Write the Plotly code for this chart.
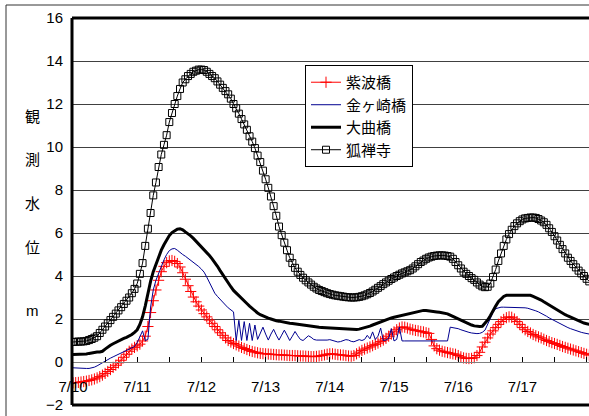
import plotly.graph_objects as go

# hourly observations starting 7/10 00:00
shiwa = [
    -0.97, -0.96, -0.95, -0.93, -0.91, -0.89, -0.86, -0.83, -0.79, -0.74, -0.68, -0.61,
    -0.53, -0.44, -0.35, -0.25, -0.15, -0.04, 0.08, 0.22, 0.36, 0.5, 0.6, 0.68,
    0.75, 0.83, 0.98, 1.2, 1.65, 2.3, 2.85, 3.35, 3.8, 4.2, 4.45, 4.62,
    4.7, 4.72, 4.68, 4.58, 4.42, 4.15, 3.85, 3.55, 3.28, 3.02, 2.8, 2.6,
    2.42, 2.25, 2.1, 1.95, 1.8, 1.65, 1.5, 1.36, 1.24, 1.12, 1.0, 0.93,
    0.86, 0.8, 0.74, 0.68, 0.63, 0.58, 0.53, 0.49, 0.46, 0.43, 0.4, 0.39,
    0.38, 0.37, 0.36, 0.35, 0.34, 0.33, 0.33, 0.32, 0.31, 0.3, 0.3, 0.3,
    0.29, 0.28, 0.28, 0.27, 0.26, 0.25, 0.25, 0.26, 0.28, 0.3, 0.33, 0.36,
    0.38, 0.38, 0.36, 0.34, 0.33, 0.32, 0.3, 0.28, 0.27, 0.3, 0.38, 0.46,
    0.54, 0.6, 0.65, 0.7, 0.76, 0.82, 0.88, 0.95, 1.02, 1.1, 1.2, 1.3,
    1.4, 1.5, 1.58, 1.63, 1.62, 1.58, 1.53, 1.5, 1.47, 1.45, 1.42, 1.4,
    1.36, 1.33, 1.05, 0.75, 0.62, 0.55, 0.5, 0.47, 0.44, 0.41, 0.38, 0.36,
    0.3, 0.24, 0.19, 0.17, 0.16, 0.17, 0.2, 0.3, 0.45, 0.7, 0.92, 1.12,
    1.3, 1.45, 1.6, 1.75, 1.88, 1.98, 2.06, 2.1, 2.08, 2.0, 1.88, 1.75,
    1.6, 1.5, 1.42, 1.35, 1.28, 1.22, 1.17, 1.12, 1.06, 1.0, 0.95, 0.9,
    0.86, 0.82, 0.77, 0.72, 0.68, 0.64, 0.6, 0.56, 0.52, 0.48, 0.44, 0.4,
    0.36, 0.32,
]

kanegasaki = [
    -0.27, -0.28, -0.3, -0.3, -0.3, -0.3, -0.3, -0.28, -0.24, -0.18, -0.1, -0.03,
    0.05, 0.12, 0.18, 0.24, 0.3, 0.36, 0.42, 0.48, 0.53, 0.58, 0.63, 0.72,
    0.9, 1.2, 1.45, 1.0, 1.05, 2.55, 3.35, 3.8, 4.15, 4.45, 4.75, 5.0,
    5.18, 5.26, 5.28, 5.2, 5.08, 5.0, 4.92, 4.83, 4.74, 4.64, 4.54, 4.44,
    4.32, 4.18, 3.95, 3.7, 3.42, 3.2, 3.05, 2.93, 2.8, 2.65, 2.52, 2.42,
    2.33, 1.0, 1.94, 1.0, 1.88, 1.0, 1.8, 1.0, 1.72, 1.05, 1.35, 1.62,
    1.3, 1.02, 1.3, 1.52, 1.25, 1.02, 1.25, 1.48, 1.25, 1.0, 1.2, 1.42,
    1.22, 1.05, 1.0, 1.12, 1.22, 1.15, 1.05, 1.02, 1.02, 1.0, 1.0, 1.02,
    1.04, 1.0, 0.95, 0.93, 0.95, 1.0, 1.04, 1.02, 0.96, 0.94, 1.0, 1.04,
    1.0, 1.05, 1.24, 1.08, 1.4, 1.05, 1.2, 1.58, 1.0, 1.02, 1.1, 1.55,
    0.98, 1.05, 1.63, 0.98, 0.98, 0.98, 0.98, 0.98, 0.98, 0.98, 0.98, 0.98,
    0.98, 0.98, 0.98, 0.98, 0.98, 0.98, 0.98, 0.98, 0.98, 1.62, 1.6, 1.57,
    1.55, 1.5, 1.45, 1.42, 1.38, 1.35, 1.33, 1.32, 1.33, 1.38, 1.48, 1.75,
    2.05, 2.3, 2.48, 2.53, 2.55, 2.55, 2.55, 2.55, 2.54, 2.54, 2.53, 2.53,
    2.53, 2.52, 2.5, 2.47, 2.43, 2.38, 2.33, 2.27, 2.2, 2.13, 2.05, 1.98,
    1.92, 1.86, 1.8, 1.73, 1.66, 1.6, 1.55, 1.5, 1.46, 1.42, 1.38, 1.35,
    1.32, 1.3,
]

omagari = [
    0.35, 0.35, 0.35, 0.36, 0.36, 0.37, 0.4, 0.43, 0.45, 0.46, 0.47, 0.5,
    0.6, 0.7, 0.78, 0.85, 0.92, 0.98, 1.04, 1.1, 1.15, 1.21, 1.28, 1.38,
    1.5, 1.75, 2.1, 2.6, 3.2, 3.75, 4.2, 4.55, 4.9, 5.2, 5.45, 5.7,
    5.88, 6.02, 6.12, 6.18, 6.2, 6.15, 6.05, 5.97, 5.87, 5.75, 5.62, 5.5,
    5.35, 5.2, 5.08, 4.95, 4.8, 4.65, 4.45, 4.25, 4.05, 3.85, 3.65, 3.5,
    3.33, 3.2, 3.07, 2.95, 2.83, 2.72, 2.6, 2.48, 2.37, 2.28, 2.2, 2.14,
    2.09, 2.04, 2.0, 1.95, 1.92, 1.9, 1.87, 1.84, 1.82, 1.8, 1.79, 1.77,
    1.75, 1.73, 1.72, 1.7, 1.68, 1.66, 1.64, 1.63, 1.62, 1.61, 1.6, 1.6,
    1.59, 1.58, 1.57, 1.56, 1.55, 1.53, 1.52, 1.51, 1.5, 1.5, 1.51, 1.53,
    1.56, 1.59, 1.63, 1.67, 1.72, 1.77, 1.83, 1.88, 1.93, 1.98, 2.02, 2.05,
    2.08, 2.11, 2.14, 2.17, 2.2, 2.23, 2.27, 2.3, 2.33, 2.36, 2.38, 2.4,
    2.4, 2.39, 2.37, 2.35, 2.33, 2.31, 2.29, 2.27, 2.24, 2.18, 2.12, 2.06,
    2.0, 1.95, 1.88, 1.83, 1.78, 1.72, 1.68, 1.66, 1.65, 1.66, 1.8, 1.95,
    2.15, 2.4, 2.6, 2.8, 2.95, 3.05, 3.1, 3.1, 3.1, 3.1, 3.1, 3.1,
    3.1, 3.1, 3.1, 3.1, 3.05, 3.0, 2.95, 2.88, 2.8, 2.72, 2.64, 2.56,
    2.48, 2.42, 2.35, 2.28, 2.2, 2.14, 2.08, 2.02, 1.96, 1.9, 1.85, 1.81,
    1.78, 1.75,
]

kozenji = [
    0.93, 0.94, 0.95, 0.95, 0.96, 0.98, 1.02, 1.07, 1.13, 1.2, 1.35, 1.5,
    1.65, 1.8, 1.95, 2.1, 2.25, 2.4, 2.55, 2.7, 2.85, 3.0, 3.2, 3.4,
    3.65, 4.1, 4.6, 5.4, 6.2, 6.93, 7.75, 8.35, 9.07, 9.65, 10.1, 10.55,
    11.16, 11.58, 12.0, 12.37, 12.7, 13.0, 13.15, 13.3, 13.4, 13.5, 13.55, 13.6,
    13.6, 13.58, 13.5, 13.4, 13.3, 13.2, 13.05, 12.9, 12.75, 12.6, 12.45, 12.25,
    12.0, 11.8, 11.55, 11.3, 11.05, 10.8, 10.5, 10.25, 9.95, 9.6, 9.3, 8.9,
    8.5, 8.1, 7.7, 7.25, 6.8, 6.3, 5.9, 5.55, 5.2, 4.85, 4.6, 4.38,
    4.2, 4.05, 3.92, 3.8, 3.7, 3.6, 3.5, 3.42, 3.35, 3.3, 3.25, 3.2,
    3.16, 3.13, 3.1, 3.08, 3.06, 3.04, 3.02, 3.01, 3.0, 3.0, 3.01, 3.03,
    3.06, 3.1, 3.15, 3.21, 3.28, 3.36, 3.45, 3.53, 3.62, 3.7, 3.78, 3.86,
    3.93, 4.0, 4.06, 4.12, 4.17, 4.22, 4.27, 4.35, 4.45, 4.55, 4.65, 4.72,
    4.8, 4.86, 4.9, 4.93, 4.95, 4.96, 4.96, 4.95, 4.93, 4.9, 4.8, 4.65,
    4.5, 4.35, 4.2, 4.1, 4.0, 3.9, 3.82, 3.7, 3.6, 3.52, 3.48, 3.5,
    3.65, 3.95, 4.3, 4.7, 5.05, 5.4, 5.7, 5.95, 6.15, 6.32, 6.45, 6.55,
    6.63, 6.68, 6.7, 6.72, 6.72, 6.7, 6.65, 6.58, 6.5, 6.38, 6.22, 6.05,
    5.85, 5.65, 5.45, 5.25, 5.05, 4.85, 4.7, 4.55, 4.4, 4.25, 4.12, 4.0,
    3.87, 3.75,
]

date_labels = ["7/10", "7/11", "7/12", "7/13", "7/14", "7/15", "7/16", "7/17"]
series_names = ["紫波橋", "金ヶ崎橋", "大曲橋", "狐禅寺"]
y_title_chars = ["観", "測", "水", "位", "m"]

hours_per_day = 24
t = [i / hours_per_day for i in range(len(kozenji))]

fig = go.Figure()
fig.add_trace(go.Scatter(
    x=t, y=shiwa, name=series_names[0], mode="lines+markers",
    line=dict(color="#ff0000", width=1),
    marker=dict(symbol="cross-thin-open", size=8, line=dict(color="#ff0000", width=1), color="#ff0000"),
))
fig.add_trace(go.Scatter(
    x=t, y=kanegasaki, name=series_names[1], mode="lines",
    line=dict(color="#000090", width=1),
))
fig.add_trace(go.Scatter(
    x=t, y=omagari, name=series_names[2], mode="lines",
    line=dict(color="#000000", width=3),
))
fig.add_trace(go.Scatter(
    x=t, y=kozenji, name=series_names[3], mode="lines+markers",
    line=dict(color="#000000", width=1),
    marker=dict(symbol="square-open", size=7, color="#000000", line=dict(color="#000000", width=1)),
))

tickvals = [i * 0.5 for i in range(2 * len(date_labels) + 1)]
ticktext = []
for i in range(len(tickvals)):
    ticktext.append(date_labels[i // 2] if i % 2 == 0 and i // 2 < len(date_labels) else "")

num_font = dict(family="Liberation Sans, Arial, sans-serif", size=15, color="black")
cjk = "Noto Sans CJK JP, sans-serif"

fig.update_layout(
    width=589, height=416,
    margin=dict(l=72, r=0, t=18, b=11),
    plot_bgcolor="white", paper_bgcolor="white",
    xaxis=dict(
        range=[-0.0156, 8.037], anchor="free", position=2 / 18,
        showline=True, linecolor="#808080", linewidth=1,
        ticks="inside", ticklen=5, tickcolor="#000000", tickwidth=1,
        tickmode="array", tickvals=tickvals, ticktext=ticktext,
        showgrid=False, zeroline=False, tickfont=num_font,
        ticklabelstandoff=11, automargin=False,
    ),
    yaxis=dict(
        range=[-2, 16], tick0=0, dtick=2,
        showgrid=True, gridcolor="#404040", gridwidth=1,
        zeroline=False, showline=False,
        ticks="", tickfont=num_font, ticklabelstandoff=8, automargin=False,
    ),
    legend=dict(
        x=0.4507, y=0.8786, xanchor="left", yanchor="top",
        bgcolor="white", bordercolor="#000000", borderwidth=1,
        font=dict(family=cjk, size=15, color="black"),
        itemwidth=30, tracegroupgap=0,
    ),
)

# plot-area borders (left/top/bottom), outer chart frame (left/top)
fig.add_shape(type="line", xref="paper", yref="paper", x0=0, x1=0, y0=0, y1=1,
              line=dict(color="black", width=3))
fig.add_shape(type="line", xref="paper", yref="paper", x0=0, x1=1.01, y0=1, y1=1,
              line=dict(color="black", width=3))
fig.add_shape(type="line", xref="paper", yref="paper", x0=0, x1=1.01, y0=0, y1=0,
              line=dict(color="black", width=3))
fx = (6 - 72) / 517
fy = 1 + (18 - 5) / 387
fig.add_shape(type="line", xref="paper", yref="paper", x0=fx, x1=fx, y0=-0.1, y1=fy,
              line=dict(color="#333333", width=1))
fig.add_shape(type="line", xref="paper", yref="paper", x0=fx, x1=1.05, y0=fy, y1=fy,
              line=dict(color="#333333", width=1))

# vertical axis title, one character per line
char_y = [115, 158, 202, 246, 310]
for ch, py in zip(y_title_chars, char_y):
    fig.add_annotation(
        text=ch, xref="paper", yref="paper",
        x=(32 - 72) / 517, y=1 - (py - 18) / 387,
        showarrow=False, xanchor="center", yanchor="middle",
        font=dict(family=cjk if ch != "m" else num_font["family"], size=15, color="black"),
    )

fig.write_html(
    "out.html",
    config={"displayModeBar": False},
    post_script="document.body.style.margin='0';document.body.style.overflow='hidden';",
)
